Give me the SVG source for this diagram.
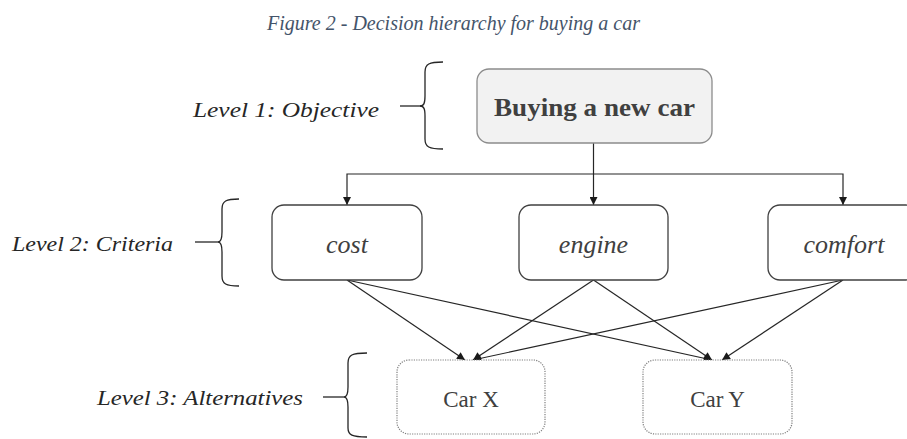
<svg xmlns="http://www.w3.org/2000/svg" width="907" height="439" viewBox="0 0 907 439">
  <style>
    .title { font-family: "Liberation Serif", serif; font-style: italic; font-size: 20px; fill: #44546A; }
    .level { font-family: "Liberation Serif", serif; font-style: italic; font-size: 22px; fill: #262626; }
    .goal { fill: #f2f2f2; stroke: #8c8c8c; stroke-width: 1.3; }
    .goal-text { font-family: "Liberation Serif", serif; font-weight: bold; font-size: 25px; fill: #404040; }
    .crit { fill: #ffffff; stroke: #404040; stroke-width: 1.3; }
    .crit-text { font-family: "Liberation Serif", serif; font-style: italic; font-size: 26px; fill: #404040; }
    .alt { fill: #ffffff; stroke: #7f7f7f; stroke-width: 1.2; stroke-dasharray: 1.2 1.2; }
    .alt-text { font-family: "Liberation Serif", serif; font-size: 23px; fill: #404040; }
    .brace { fill: none; stroke: #262626; stroke-width: 1.3; }
    .edge { fill: none; stroke: #262626; stroke-width: 1.2; }
  </style>
  <defs>
    <marker id="arrow" viewBox="0 0 10 10" refX="10" refY="5" markerWidth="9" markerHeight="8" markerUnits="userSpaceOnUse" orient="auto">
      <path d="M0,0 L10,5 L0,10 Z" fill="#1a1a1a"/>
    </marker>
  </defs>

  <rect width="907" height="439" fill="#ffffff"/>

  <text class="title" x="453.5" y="30" text-anchor="middle">Figure 2 - Decision hierarchy for buying a car</text>

  <!-- level labels with braces -->
  <g id="level1">
    <text class="level" x="193" y="117" textLength="186" lengthAdjust="spacingAndGlyphs">Level 1: Objective</text>
    <path class="brace" d="M400,106 L421,106"/>
    <path class="brace" d="M443,62 C429,62 425,64 425,72 L425,96 C425,103 424,106 420,106 C424,106 425,109 425,116 L425,139 C425,147 429,149 443,149"/>
  </g>
  <g id="level2">
    <text class="level" x="12" y="251" textLength="161" lengthAdjust="spacingAndGlyphs">Level 2: Criteria</text>
    <path class="brace" d="M195,242 L218,242"/>
    <path class="brace" d="M239,199 C226,199 222,201 222,209 L222,232 C222,239 221,242 218,242 C221,242 222,245 222,252 L222,276 C222,284 226,286 239,286"/>
  </g>
  <g id="level3">
    <text class="level" x="97" y="405" textLength="206" lengthAdjust="spacingAndGlyphs">Level 3: Alternatives</text>
    <path class="brace" d="M323,397 L344,397"/>
    <path class="brace" d="M367,353 C352,353 348,355 348,363 L348,387 C348,394 347,397 344,397 C347,397 348,400 348,407 L348,428 C348,435 352,437 367,437"/>
  </g>

  <!-- connectors -->
  <g id="connectors">
    <path class="edge" d="M593.5,143 L593.5,205" marker-end="url(#arrow)"/>
    <path class="edge" d="M593.5,174 L347,174 L347,205" marker-end="url(#arrow)"/>
    <path class="edge" d="M593.5,174 L843,174 L843,205" marker-end="url(#arrow)"/>

    <path class="edge" d="M347,280 L465,360" marker-end="url(#arrow)"/>
    <path class="edge" d="M347,280 L712,360" marker-end="url(#arrow)"/>
    <path class="edge" d="M593.5,280 L473,360" marker-end="url(#arrow)"/>
    <path class="edge" d="M593.5,280 L712,360" marker-end="url(#arrow)"/>
    <path class="edge" d="M843,280 L473,360" marker-end="url(#arrow)"/>
    <path class="edge" d="M843,280 L722,360" marker-end="url(#arrow)"/>
  </g>

  <!-- objective -->
  <g id="goal">
    <rect class="goal" x="477" y="69" width="235" height="74" rx="12" ry="12"/>
    <text class="goal-text" x="594.5" y="116" text-anchor="middle" textLength="201" lengthAdjust="spacingAndGlyphs">Buying a new car</text>
  </g>

  <!-- criteria -->
  <g id="cost">
    <rect class="crit" x="272" y="205" width="150" height="75" rx="12" ry="12"/>
    <text class="crit-text" x="347" y="253" text-anchor="middle">cost</text>
  </g>
  <g id="engine">
    <rect class="crit" x="519" y="205" width="149" height="75" rx="12" ry="12"/>
    <text class="crit-text" x="593.5" y="253" text-anchor="middle">engine</text>
  </g>
  <g id="comfort">
    <rect class="crit" x="768" y="205" width="150" height="75" rx="12" ry="12"/>
    <text class="crit-text" x="844" y="253" text-anchor="middle">comfort</text>
  </g>

  <!-- alternatives -->
  <g id="carX">
    <rect class="alt" x="397" y="360" width="148" height="74" rx="12" ry="12"/>
    <text class="alt-text" x="471" y="407" text-anchor="middle">Car X</text>
  </g>
  <g id="carY">
    <rect class="alt" x="643" y="360" width="149" height="74" rx="12" ry="12"/>
    <text class="alt-text" x="717.5" y="407" text-anchor="middle">Car Y</text>
  </g>
</svg>
